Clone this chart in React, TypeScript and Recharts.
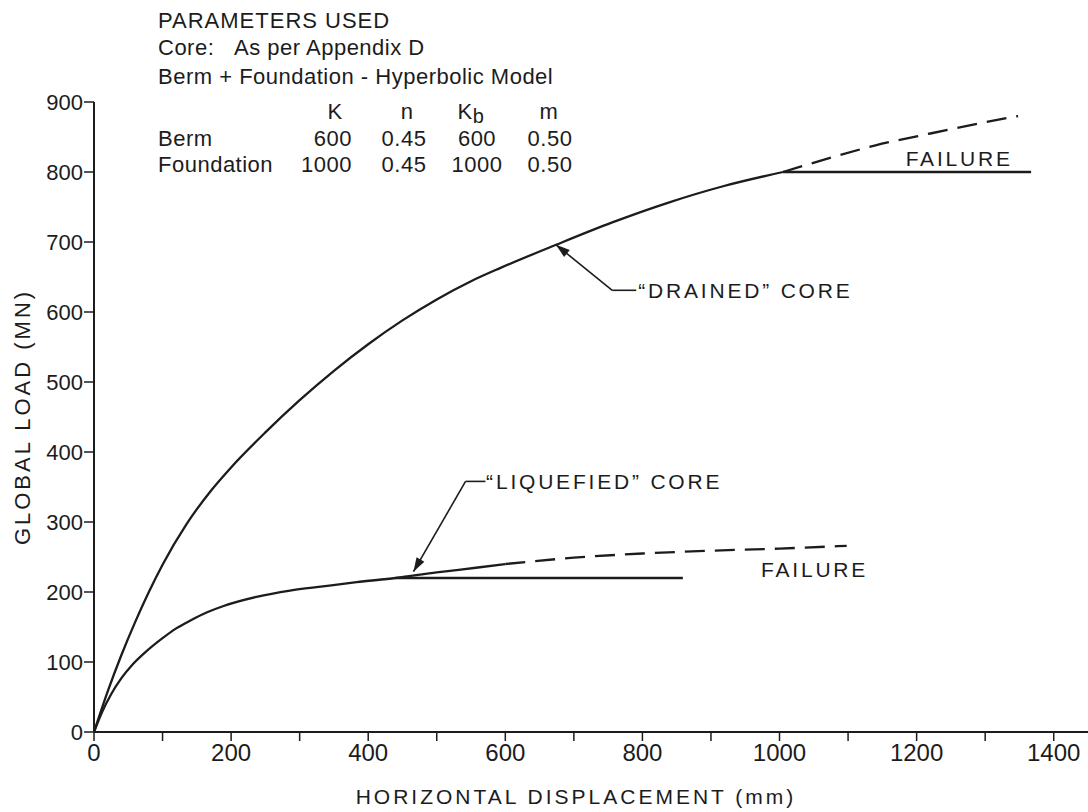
import { Label, Line, LineChart, ReferenceDot, ReferenceLine, XAxis, YAxis } from "recharts";

// values (mm, MN)
const drainedX = [0, 20, 40, 60, 80, 100, 135, 170, 200, 250, 300, 350, 400, 450, 500, 550, 593, 674, 756, 837, 919, 1005];
const drainedY = [0, 58, 110, 157, 200, 239, 297, 344, 378, 428, 474, 516, 554, 588, 618, 644, 663, 696, 728, 756, 780, 800];
const drainedBeyondX = [1005, 1070, 1140, 1220, 1300, 1348];
const drainedBeyondY = [800, 819, 838, 855, 871, 880];
const drainedFailX = [1005, 1367];
const drainedFailY = [800, 800];

const liquefiedX = [0, 12, 25, 40, 55, 75, 100, 120, 140, 165, 189, 237, 286, 334, 383, 440, 500, 560, 600];
const liquefiedY = [0, 29, 54, 77, 95, 114, 134, 148, 159, 171, 180, 193, 202, 208, 214, 220, 228, 235, 240];
const liquefiedBeyondX = [600, 700, 800, 900, 1000, 1098];
const liquefiedBeyondY = [240, 249, 255, 259, 262, 266];
const liquefiedFailX = [440, 859];
const liquefiedFailY = [220, 220];

const xTicks = [0, 100, 200, 300, 400, 500, 600, 700, 800, 900, 1000, 1100, 1200, 1300, 1400];
const yTicks = [0, 100, 200, 300, 400, 500, 600, 700, 800, 900];

const paramRows = [
  { name: "Berm", K: "600", n: "0.45", Kb: "600", m: "0.50" },
  { name: "Foundation", K: "1000", n: "0.45", Kb: "1000", m: "0.50" },
];

const rows = (xs: number[], ys: number[]) => xs.map((x, i) => ({ x, y: ys[i] }));

const FONT = "'Liberation Sans', Arial, Helvetica, sans-serif";
const INK = "#1c1c1c";

function ArrowLine(props: any) {
  const { x1, y1, x2, y2 } = props;
  const a = Math.atan2(y2 - y1, x2 - x1);
  const len = 14;
  const half = 4.5;
  const bx = x2 - len * Math.cos(a);
  const by = y2 - len * Math.sin(a);
  const pts = `${x2},${y2} ${bx - half * Math.sin(a)},${by + half * Math.cos(a)} ${bx + half * Math.sin(a)},${by - half * Math.cos(a)}`;
  return (
    <g>
      <line x1={x1} y1={y1} x2={x2} y2={y2} stroke={INK} strokeWidth={1.6} />
      <polygon points={pts} fill={INK} />
    </g>
  );
}

const textAt = (value: string, baseline: "central" | "alphabetic") => (p: any) => (
  <text
    x={p.cx}
    y={p.cy}
    fontFamily={FONT}
    fontSize={21}
    letterSpacing={2.8}
    fill={INK}
    dominantBaseline={baseline}
  >
    {value}
  </text>
);

function Params() {
  const t = { fontFamily: FONT, fontSize: 22, fill: INK, letterSpacing: 0.5 } as const;
  const rowY = [146, 172];
  return (
    <svg width={1088} height={190} style={{ position: "absolute", left: 0, top: 0, pointerEvents: "none" }}>
      <text x={158} y={28} {...t} letterSpacing={1}>PARAMETERS USED</text>
      <text x={158} y={55} {...t}>Core:</text>
      <text x={234} y={55} {...t}>As per Appendix D</text>
      <text x={158} y={84} {...t}>Berm + Foundation - Hyperbolic Model</text>
      <text x={335} y={119} {...t} textAnchor="middle">K</text>
      <text x={407} y={119} {...t} textAnchor="middle">n</text>
      <text x={471} y={119} {...t} textAnchor="middle">
        K<tspan dy={4} fontSize={20}>b</tspan>
      </text>
      <text x={549} y={119} {...t} textAnchor="middle">m</text>
      {paramRows.map((r, i) => (
        <g key={r.name}>
          <text x={158} y={rowY[i]} {...t}>{r.name}</text>
          <text x={352} y={rowY[i]} {...t} textAnchor="end">{r.K}</text>
          <text x={404} y={rowY[i]} {...t} textAnchor="middle">{r.n}</text>
          <text x={477} y={rowY[i]} {...t} textAnchor="middle">{r.Kb}</text>
          <text x={550} y={rowY[i]} {...t} textAnchor="middle">{r.m}</text>
        </g>
      ))}
    </svg>
  );
}

export default function App() {
  const solid = { stroke: INK, strokeWidth: 2.3, dot: false, isAnimationActive: false } as const;
  return (
    <div style={{ position: "relative", width: 1088, height: 812, background: "#fff" }}>
      <style>{"body{margin:0}"}</style>
      <LineChart width={1088} height={812} margin={{ top: 102, right: 0, bottom: 0, left: 0 }}>
        <XAxis
          dataKey="x"
          type="number"
          domain={[0, 1450]}
          ticks={xTicks}
          tickFormatter={(v: number) => (v % 200 === 0 ? String(v) : "")}
          height={80}
          tickSize={9}
          tickMargin={3}
          stroke={INK}
          axisLine={{ stroke: INK, strokeWidth: 2 }}
          tickLine={{ stroke: INK, strokeWidth: 1.5 }}
          tick={{ fontSize: 24, fill: INK, fontFamily: FONT }}
          allowDataOverflow
        >
          <Label
            value="HORIZONTAL DISPLACEMENT (mm)"
            position="insideBottom"
            offset={8}
            dx={-15}
            style={{ fontSize: 21, fill: INK, fontFamily: FONT, letterSpacing: 3 }}
          />
        </XAxis>
        <YAxis
          type="number"
          domain={[0, 900]}
          ticks={yTicks}
          width={94}
          tickSize={10}
          tickMargin={1}
          axisLine={{ stroke: INK, strokeWidth: 2 }}
          tickLine={{ stroke: INK, strokeWidth: 1.5 }}
          tick={{ fontSize: 22, fill: INK, fontFamily: FONT }}
        >
          <Label
            value="GLOBAL LOAD (MN)"
            angle={-90}
            position="insideLeft"
            offset={22}
            style={{ fontSize: 22, fill: INK, fontFamily: FONT, letterSpacing: 3, textAnchor: "middle" }}
          />
        </YAxis>

        <Line data={rows(drainedX, drainedY)} dataKey="y" type="monotone" {...solid} />
        <Line data={rows(drainedBeyondX, drainedBeyondY)} dataKey="y" type="monotone" {...solid} strokeDasharray="20 10" />
        <Line data={rows(drainedFailX, drainedFailY)} dataKey="y" type="linear" {...solid} />
        <Line data={rows(liquefiedX, liquefiedY)} dataKey="y" type="monotone" {...solid} />
        <Line data={rows(liquefiedBeyondX, liquefiedBeyondY)} dataKey="y" type="monotone" {...solid} strokeDasharray="20 10" />
        <Line data={rows(liquefiedFailX, liquefiedFailY)} dataKey="y" type="linear" {...solid} />

        {/* leaders */}
        <ReferenceLine segment={[{ x: 756, y: 631 }, { x: 791, y: 631 }]} stroke={INK} strokeWidth={1.6} />
        <ReferenceLine segment={[{ x: 756, y: 631 }, { x: 674, y: 696 }]} shape={ArrowLine} />
        <ReferenceLine segment={[{ x: 542, y: 358 }, { x: 571, y: 358 }]} stroke={INK} strokeWidth={1.6} />
        <ReferenceLine segment={[{ x: 542, y: 358 }, { x: 466, y: 229 }]} shape={ArrowLine} />

        <ReferenceDot x={794} y={631} r={0} shape={textAt("\u201CDRAINED\u201D CORE", "central")} />
        <ReferenceDot x={572} y={358} r={0} shape={textAt("\u201CLIQUEFIED\u201D CORE", "central")} />
        <ReferenceDot x={1184} y={809} r={0} shape={textAt("FAILURE", "alphabetic")} />
        <ReferenceDot x={973} y={222} r={0} shape={textAt("FAILURE", "alphabetic")} />
      </LineChart>
      <Params />
    </div>
  );
}
